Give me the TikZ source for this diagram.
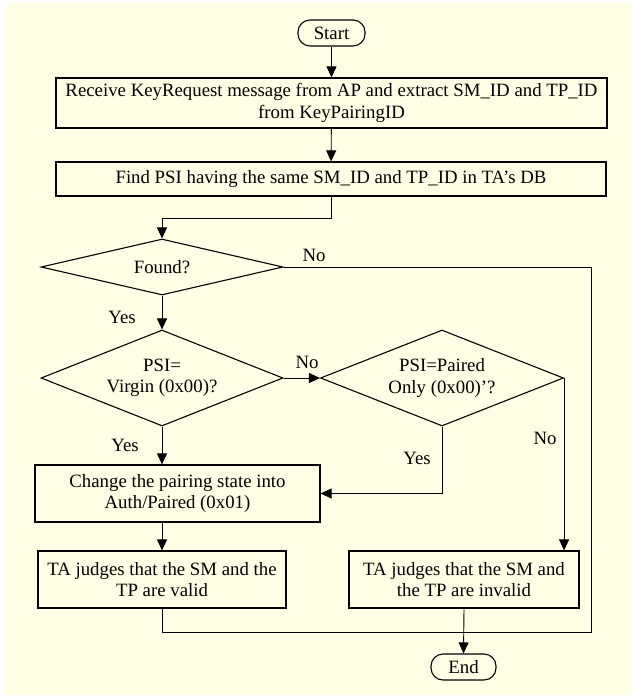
\documentclass[tikz,border=0pt]{standalone}
\usepackage{fontspec}
\setmainfont{Liberation Serif}
\usetikzlibrary{shapes.geometric,arrows.meta}
\definecolor{paper}{RGB}{255,255,229}
\begin{document}
\begin{tikzpicture}[x=1pt,y=-1pt,
  font=\fontsize{18.8}{21.5}\selectfont,
  box/.style={draw, line width=1.2pt, inner sep=0pt, align=center},
  term/.style={draw, line width=1.1pt, inner sep=0pt, rounded corners=12pt, minimum height=26pt},
  decision/.style={draw, diamond, aspect=2.5, line width=1.1pt, inner sep=0pt, align=center},
  arr/.style={line width=0.9pt, -{Triangle[length=11pt,width=10pt]}},
  link/.style={line width=0.9pt},
  lbl/.style={inner sep=0pt}
]
% page background with a thin white edge at top and left
\fill[white] (0,0) rectangle (632,695);
\fill[paper] (6,3) rectangle (632,695);
\useasboundingbox (0,0) rectangle (632,695);

% process steps
\node[term, minimum width=67pt] (start) at (331.5,33) {Start};
\node[box, minimum width=551pt, minimum height=50pt] (recv) at (331.5,103)
  {Receive KeyRequest message from AP and extract SM\_ID and TP\_ID\\from KeyPairingID};
\node[box, minimum width=550pt, minimum height=34pt] (find) at (331,179)
  {Find PSI having the same SM\_ID and TP\_ID in TA’s DB};
\node[decision, minimum width=242pt, minimum height=56pt] (found) at (162,267) {Found?};
\node[decision, minimum width=242pt, minimum height=96pt] (virgin) at (162,378)
  {PSI=\\Virgin (0x00)?};
\node[decision, minimum width=243pt, minimum height=96pt] (paired) at (442,378)
  {PSI=Paired\\Only (0x00)’?};
\node[box, minimum width=285pt, minimum height=57pt] (change) at (177.5,493.5)
  {Change the pairing state into\\Auth/Paired (0x01)};
\node[box, minimum width=248pt, minimum height=57pt] (valid) at (162,579.5)
  {TA judges that the SM and the\\TP are valid};
\node[box, minimum width=230pt, minimum height=57pt] (invalid) at (464,579.5)
  {TA judges that the SM and\\the TP are invalid};
\node[term, minimum width=65pt] (end) at (463.5,667) {End};

% branch labels
\node[lbl] (noFound) at (314,255) {No};
\node[lbl] (yesFound) at (122,317) {Yes};
\node[lbl] (noVirgin) at (307,362) {No};
\node[lbl] (yesVirgin) at (125,445) {Yes};
\node[lbl] (yesPaired) at (417,458) {Yes};
\node[lbl] (noPaired) at (545,438) {No};

% bend points
\coordinate (split) at (162,218);
\coordinate (loopR) at (591,632);

% connectors
\draw[arr] (start) -- (recv);
\draw[arr] (recv) -- (find);
\draw[arr] (find.south) |- (split) -- (found.north);
\draw[arr] (found.south) -- (virgin.north);
\draw[arr] (virgin.east) -- (paired.west);
\draw[arr] (virgin.south) -- (virgin.south |- change.north);
\draw[arr] (paired.south) |- (change.east);
\draw[arr] (paired.east) -- (paired.east |- invalid.north);
\draw[arr] (valid.north |- change.south) -- (valid.north);
\draw[link] (found.east) -| (loopR) -| (valid.south);
\draw[arr] (invalid.south) -- (end.north);
\end{tikzpicture}
\end{document}
